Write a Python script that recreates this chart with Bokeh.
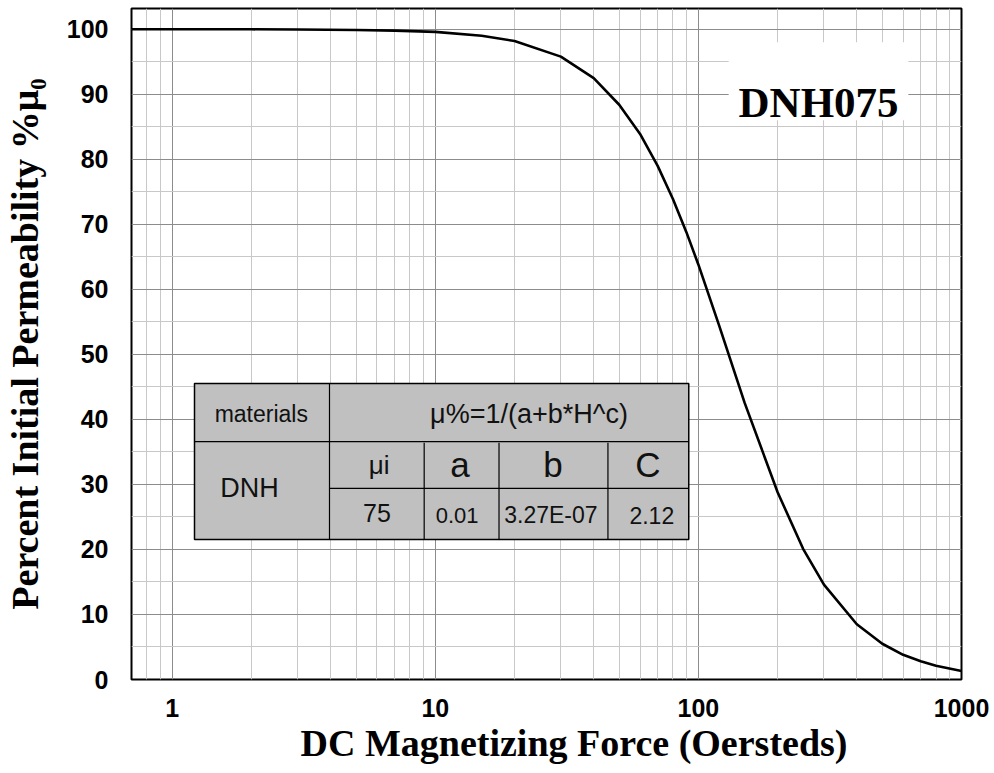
from bokeh.plotting import figure
from bokeh.models import FixedTicker, PrintfTickFormatter, Range1d, Label, Title
from bokeh.embed import file_html
from bokeh.resources import INLINE

# ---- data ----
H_oe = [0.7, 1, 2, 3, 5, 7, 10, 15, 20, 30, 40, 50, 60, 70, 80, 90, 100,
        120, 150, 200, 250, 300, 400, 500, 600, 700, 800, 1000]
mu_pct = [100.0, 100.0, 100.0, 99.97, 99.9, 99.8, 99.6, 99.0, 98.2, 95.8, 92.5,
          88.4, 83.9, 79.0, 73.9, 68.8, 63.8, 54.4, 42.5, 28.8, 20.1, 14.6,
          8.5, 5.5, 3.8, 2.8, 2.1, 1.3]

x_major = [1, 10, 100, 1000]
x_minor = [0.7, 0.8, 0.9] + [k * d for d in (1, 10, 100) for k in range(2, 10)]
y_major = list(range(0, 101, 10))
y_minor = list(range(5, 101, 10))

material = "DNH"
mu_i = "75"
coef_a = "0.01"
coef_b = "3.27E-07"
coef_c = "2.12"
formula = "μ%=1/(a+b*H^c)"
title_text = "DNH075"
x_title = "DC Magnetizing Force (Oersteds)"
y_title = "Percent Initial Permeability %μ₀"

# ---- figure ----
p = figure(width=994, height=773, x_axis_type="log",
           x_range=Range1d(0.7, 1000), y_range=Range1d(0, 103.2),
           output_backend="svg", toolbar_location=None,
           min_border_left=129, min_border_right=33,
           min_border_top=8, min_border_bottom=94)
p.background_fill_color = "white"
p.border_fill_color = "white"
p.outline_line_color = "black"
p.outline_line_width = 2

p.xaxis.ticker = FixedTicker(ticks=x_major, minor_ticks=x_minor)
p.yaxis.ticker = FixedTicker(ticks=y_major, minor_ticks=y_minor)
p.xaxis.formatter = PrintfTickFormatter(format="%d")
p.yaxis.formatter = PrintfTickFormatter(format="%d")

for ax in (p.xaxis, p.yaxis):
    ax.axis_line_color = None
    ax.major_tick_line_color = None
    ax.minor_tick_line_color = None
    ax.major_label_text_font = "Liberation Sans"
    ax.major_label_text_font_style = "bold"
    ax.major_label_text_font_size = "25px"
    ax.major_label_text_color = "black"
    ax.axis_label_text_font = "Liberation Serif"
    ax.axis_label_text_font_style = "bold"
    ax.axis_label_text_color = "black"

p.xaxis.major_label_standoff = 13
p.yaxis.major_label_standoff = 17
p.yaxis.axis_label = y_title
p.yaxis.axis_label_text_font_size = "38px"
p.yaxis.axis_label_standoff = 18

# x-axis title as a bottom title, shifted right like the original
p.add_layout(Title(text=x_title, align="left", offset=169, standoff=0,
                   text_font="Liberation Serif", text_font_size="38px",
                   text_font_style="bold", text_color="black"), "below")

for g in (p.xgrid, p.ygrid):
    g.grid_line_color = "#8c8c8c"
    g.grid_line_width = 1
    g.minor_grid_line_color = "#c8c8c8"
    g.minor_grid_line_width = 1

# ---- title box (layout) ----
p.quad(left=[130.3], right=[628], bottom=[86.0], top=[98.0],
       fill_color="white", line_color=None)

# ---- curve ----
p.line(H_oe, mu_pct, line_color="black", line_width=2.6)

# ---- parameter table (layout positions) ----
tb_l, tb_r, tb_b, tb_t = 1.215, 91.9, 21.54, 45.54
p.quad(left=[tb_l], right=[tb_r], bottom=[tb_b], top=[tb_t],
       fill_color="#c0c0c0", line_color="black", line_width=1.5)
seg_x0 = [tb_l, 3.96, 3.96, 9.07, 17.46, 45.3]
seg_x1 = [tb_r, tb_r, 3.96, 9.07, 17.46, 45.3]
seg_y0 = [36.6, 29.4, tb_t, 36.4, 36.4, 36.4]
seg_y1 = [36.6, 29.4, tb_b, tb_b, tb_b, tb_b]
p.segment(seg_x0, seg_y0, seg_x1, seg_y1, line_color="black", line_width=1.2)

def tlabel(x, y, txt, size):
    p.add_layout(Label(x=x, y=y, text=txt, text_font="Liberation Sans",
                       text_font_size=size, text_color="#111111",
                       text_align="center", text_baseline="middle"))

tlabel(2.18, 40.9, "materials", "23px")
tlabel(22.7, 40.9, formula, "27px")
tlabel(1.965, 29.5, material, "27px")
tlabel(6.12, 33.0, "μi", "26px")
tlabel(12.4, 33.0, "a", "35px")
tlabel(28.0, 33.0, "b", "35px")
tlabel(64.2, 33.0, "C", "35px")
tlabel(6.0, 25.6, mu_i, "25px")
tlabel(12.1, 25.3, coef_a, "22px")
tlabel(27.5, 25.3, coef_b, "23px")
tlabel(66.5, 25.3, coef_c, "23px")

p.add_layout(Label(x=286.2, y=88.8, text=title_text, text_font="Liberation Serif",
                   text_font_size="43px", text_font_style="bold",
                   text_color="black", text_align="center",
                   text_baseline="alphabetic"))

open("out.html", "w").write(file_html(p, INLINE))
